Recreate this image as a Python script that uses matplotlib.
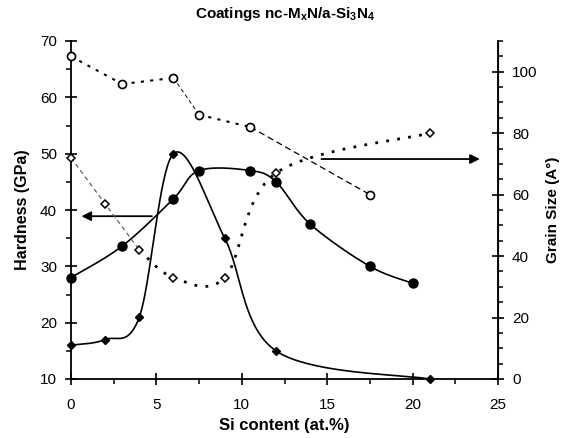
import numpy as np
import matplotlib
matplotlib.use("Agg")
import matplotlib.pyplot as plt
from matplotlib.ticker import MultipleLocator

plt.rcParams['font.family'] = ['Liberation Sans', 'DejaVu Sans']

# Hardness (left axis)
hc_x = [0, 3, 6, 7.5, 10.5, 12, 14, 17.5, 20]
hc_y = [28, 33.6, 42, 47, 47, 45, 37.5, 30, 27]
hd_x = [0, 2, 4, 6, 9, 12, 21]
hd_y = [16, 17, 21, 50, 35, 15, 10]
# Grain size (right axis)
gc_x = [0, 3, 6, 7.5, 10.5, 17.5]
gc_y = [105, 96, 98, 86, 82, 60]
gd_x = [0, 2, 4, 6, 9, 12, 21]
gd_y = [72, 57, 42, 33, 33, 67, 80]

title = "Coatings nc-M$_\\mathregular{x}$N/a-Si$_\\mathregular{3}$N$_\\mathregular{4}$"


def smooth(xs, ys, n=40):
    p = np.column_stack([xs, ys]).astype(float)
    out = [p[0]]
    for i in range(len(p) - 1):
        p0 = p[i - 1] if i > 0 else p[i]
        p3 = p[i + 2] if i + 2 < len(p) else p[i + 1]
        c1 = p[i] + (p[i + 1] - p0) / 6.0
        c2 = p[i + 1] - (p3 - p[i]) / 6.0
        t = np.linspace(0, 1, n)[1:, None]
        seg = ((1 - t) ** 3) * p[i] + 3 * ((1 - t) ** 2) * t * c1 + 3 * (1 - t) * t ** 2 * c2 + t ** 3 * p[i + 1]
        out.extend(seg)
    out = np.array(out)
    return out[:, 0], out[:, 1]


fig = plt.figure(figsize=(5.71, 4.38), dpi=100)
ax = fig.add_axes([71 / 571, 1 - 379 / 438, (498 - 71) / 571, (379 - 41) / 438])
ax2 = ax.twinx()

ax.set_xlim(0, 25)
ax.set_ylim(10, 70)
ax2.set_ylim(0, 110)

# filled circles - hardness
sx, sy = smooth(hc_x, hc_y)
ax.plot(sx, sy, color='black', lw=1.2, zorder=3)
ax.plot(hc_x, hc_y, 'o', color='black', ms=6.5, zorder=4, clip_on=False)
# filled diamonds - hardness
sx, sy = smooth(hd_x, hd_y)
ax.plot(sx, sy, color='black', lw=1.2, zorder=3)
ax.plot(hd_x, hd_y, 'D', color='black', ms=4.5, zorder=4, clip_on=False)

# open circles - grain size (segment styles vary)
styles_c = [(0, (1.5, 3)), (0, (1.5, 3)), (0, (4, 3)), (0, (1.5, 3)), (0, (5, 3))]
widths_c = [1.5, 1.5, 0.7, 1.5, 0.9]
for i in range(len(gc_x) - 1):
    ax2.plot(gc_x[i:i + 2], gc_y[i:i + 2], color='black', lw=widths_c[i],
             linestyle=styles_c[i], zorder=3)
ax2.plot(gc_x, gc_y, 'o', mfc='white', mec='black', mew=1.2, ms=5.8, zorder=4, clip_on=False)

# open diamonds - grain size
ax2.plot(gd_x[:3], gd_y[:3], color='#555555', lw=0.8, linestyle=(0, (4, 3)), zorder=3)
sx, sy = smooth(gd_x[2:], gd_y[2:])
ax2.plot(sx, sy, color='black', lw=2.0, linestyle=(0, (1, 3.0)), zorder=3)
ax2.plot(gd_x, gd_y, 'D', mfc='white', mec='black', mew=1.1, ms=4.5, zorder=4, clip_on=False)

# arrows
ax.annotate('', xy=(0.45, 38.9), xytext=(4.9, 38.9),
            arrowprops=dict(arrowstyle='-|>', color='black', lw=1.3, mutation_scale=14))
ax.annotate('', xy=(24.1, 49.05), xytext=(14.5, 49.05),
            arrowprops=dict(arrowstyle='-|>', color='black', lw=1.3, mutation_scale=14))

# axes styling
for a in (ax, ax2):
    a.spines['top'].set_visible(False)
ax2.spines['left'].set_visible(False)
ax2.spines['bottom'].set_visible(False)
for s in ('left', 'bottom'):
    ax.spines[s].set_linewidth(1.3)
ax2.spines['right'].set_linewidth(1.3)

ax.xaxis.set_major_locator(MultipleLocator(5))
ax.xaxis.set_minor_locator(MultipleLocator(2.5))
ax.yaxis.set_major_locator(MultipleLocator(10))
ax.yaxis.set_minor_locator(MultipleLocator(5))
ax2.yaxis.set_major_locator(MultipleLocator(20))
ax2.yaxis.set_minor_locator(MultipleLocator(5))

ax.tick_params(which='major', direction='inout', length=8, width=1.2, labelsize=11, pad=6)
ax.tick_params(which='minor', direction='out', length=3.5, width=1.1)
ax.tick_params(axis='x', which='major', pad=10)
ax2.tick_params(which='major', direction='inout', length=8, width=1.2, labelsize=11, pad=6)
ax2.tick_params(which='minor', direction='out', length=3.5, width=1.1)

ax.set_ylabel('Hardness (GPa)', fontsize=11.6, fontweight='bold', labelpad=7)
ax2.set_ylabel('Grain Size (A°)', fontsize=11, fontweight='bold', labelpad=6)
ax.set_xlabel('Si content (at.%)', fontsize=12, fontweight='bold', labelpad=4)
fig.suptitle(title, x=0.5, y=0.988, fontsize=11, fontweight='bold')

fig.savefig('out.png', dpi=100)
